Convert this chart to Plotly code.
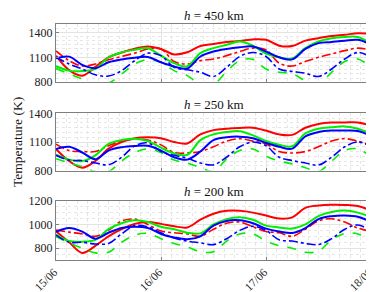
import pandas as pd
import plotly.graph_objects as go
from plotly.subplots import make_subplots

times = pd.date_range("2021-06-15 00:00", periods=25, freq="3h")

# h = 450 km
p450_red_solid = [1120, 946, 880, 985, 1100, 1158, 1204, 1230, 1200, 1135, 1160, 1235, 1260, 1285, 1295, 1315, 1310, 1240, 1235, 1300, 1330, 1355, 1370, 1390, 1380]
p450_red_dash = [1177, 1060, 995, 1020, 1070, 1110, 1150, 1200, 1200, 1050, 1020, 1060, 1080, 1120, 1170, 1210, 1190, 1030, 995, 1050, 1100, 1140, 1180, 1210, 1185]
p450_green_solid = [992, 940, 935, 960, 1100, 1160, 1190, 1210, 1120, 1030, 992, 1150, 1210, 1250, 1290, 1240, 1145, 1100, 1085, 1210, 1290, 1330, 1345, 1345, 1262]
p450_green_dash = [965, 900, 840, 770, 790, 900, 1020, 1075, 1040, 940, 880, 780, 775, 930, 1060, 1075, 960, 920, 905, 820, 785, 920, 1050, 1080, 973]
p450_blue_solid = [1088, 1108, 1010, 970, 1040, 1075, 1095, 1105, 1040, 990, 965, 1110, 1170, 1200, 1220, 1230, 1170, 1100, 1075, 1200, 1270, 1285, 1300, 1310, 1254]
p450_blue_dash = [1100, 1020, 960, 890, 875, 940, 1060, 1150, 1120, 980, 950, 920, 869, 980, 1110, 1158, 1110, 960, 930, 910, 870, 960, 1080, 1158, 1100]

# h = 250 km
p250_red_solid = [1027, 900, 830, 900, 1030, 1100, 1140, 1150, 1140, 1100, 1085, 1180, 1225, 1240, 1248, 1250, 1220, 1180, 1175, 1250, 1290, 1305, 1305, 1305, 1271]
p250_red_dash = [1078, 1010, 1000, 1000, 1060, 1110, 1130, 1120, 1070, 990, 985, 1000, 1050, 1110, 1135, 1110, 1080, 1000, 985, 1000, 1050, 1110, 1135, 1110, 1061]
p250_green_solid = [966, 915, 900, 960, 1080, 1120, 1135, 1110, 1040, 980, 965, 1120, 1180, 1205, 1214, 1170, 1110, 1070, 1055, 1190, 1240, 1255, 1264, 1240, 1186]
p250_green_dash = [925, 880, 840, 790, 790, 900, 990, 1027, 990, 910, 880, 830, 790, 920, 1010, 1027, 950, 900, 870, 830, 790, 900, 1010, 1027, 942]
p250_blue_solid = [1027, 1050, 990, 920, 1010, 1045, 1058, 1060, 1010, 940, 915, 1000, 1120, 1150, 1156, 1140, 1090, 1050, 1030, 1160, 1205, 1220, 1220, 1215, 1163]
p250_blue_dash = [960, 910, 905, 880, 860, 940, 1060, 1090, 1000, 960, 930, 880, 860, 940, 1050, 1100, 1060, 940, 905, 880, 858, 940, 1050, 1100, 1054]

# h = 200 km
p200_red_solid = [943, 850, 760, 820, 900, 960, 1005, 1020, 1005, 985, 975, 1040, 1090, 1115, 1115, 1100, 1075, 1050, 1060, 1140, 1160, 1167, 1165, 1155, 1117]
p200_red_dash = [952, 935, 920, 900, 950, 1030, 1045, 1000, 945, 930, 920, 900, 960, 1010, 1020, 980, 940, 930, 900, 960, 1030, 1048, 1020, 970, 940]
p200_green_solid = [915, 860, 855, 870, 960, 1010, 1035, 1020, 980, 960, 930, 925, 1000, 1045, 1060, 1040, 990, 975, 965, 1000, 1070, 1105, 1117, 1100, 1062]
p200_green_dash = [897, 845, 800, 760, 765, 850, 910, 924, 880, 840, 810, 770, 770, 860, 920, 920, 860, 820, 800, 765, 775, 870, 924, 920, 855]
p200_blue_solid = [938, 970, 940, 880, 930, 970, 980, 970, 920, 890, 875, 900, 990, 1030, 1035, 1010, 965, 940, 928, 970, 1045, 1070, 1076, 1065, 1021]
p200_blue_dash = [910, 850, 850, 835, 840, 920, 990, 980, 930, 885, 860, 845, 830, 880, 950, 985, 950, 870, 860, 840, 830, 880, 960, 995, 943]

titles = ["<i>h</i> = 450 km", "<i>h</i> = 250 km", "<i>h</i> = 200 km"]
yranges = [[800, 1500], [800, 1400], [700, 1200]]
ytickvals = [[800, 1100, 1400], [800, 1100, 1400], [800, 1000, 1200]]
xticks = ["2021-06-15", "2021-06-16", "2021-06-17", "2021-06-18"]
xticklabels = ["15/06", "16/06", "17/06", "18/06"]

panels = [
    [p450_red_solid, p450_red_dash, p450_green_solid, p450_green_dash, p450_blue_solid, p450_blue_dash],
    [p250_red_solid, p250_red_dash, p250_green_solid, p250_green_dash, p250_blue_solid, p250_blue_dash],
    [p200_red_solid, p200_red_dash, p200_green_solid, p200_green_dash, p200_blue_solid, p200_blue_dash],
]
styles = [
    ("#ff0000", "solid", 2.0),
    ("#ff0000", "dashdot", 1.6),
    ("#00ee00", "solid", 2.0),
    ("#00ee00", "dash", 1.6),
    ("#0000ff", "solid", 2.0),
    ("#0000ff", "dashdot", 1.6),
]

fig = make_subplots(rows=3, cols=1, shared_xaxes=False, vertical_spacing=0.13)
domains = [[0.753, 1.0], [0.379, 0.621], [0.0, 0.251]]

FONT = "Liberation Serif"
for i, series in enumerate(panels):
    for vals, (col, dash, w) in zip(series, styles):
        fig.add_trace(go.Scatter(x=times, y=vals, mode="lines",
                                 line=dict(color=col, dash=dash, width=w, shape="spline", smoothing=1.0),
                                 showlegend=False, hoverinfo="skip"), row=i + 1, col=1)
    ax = "" if i == 0 else str(i + 1)
    fig.update_layout({
        f"yaxis{ax}": dict(domain=domains[i], range=yranges[i], tickvals=ytickvals[i],
                           showline=True, mirror=True, linecolor="#7f7f7f", linewidth=1,
                           ticks="inside", ticklen=3, tickcolor="#7f7f7f",
                           showgrid=True, gridcolor="#e3e3e3", gridwidth=1, zeroline=False,
                           tickfont=dict(family=FONT, size=12, color="#222"),
                           minor=dict(dtick=50, showgrid=True, gridcolor="#e6e6e6", griddash="dot", gridwidth=1)),
        f"xaxis{ax}": dict(range=[xticks[0], xticks[-1]], tickvals=xticks,
                           ticktext=xticklabels if i == 2 else None,
                           showticklabels=(i == 2), tickangle=-45, ticklabelshift=-2,
                           showline=True, mirror=True, linecolor="#7f7f7f", linewidth=1,
                           ticks="inside", ticklen=3, tickcolor="#7f7f7f",
                           showgrid=True, gridcolor="#e3e3e3", gridwidth=1, zeroline=False,
                           tickfont=dict(family=FONT, size=11.5, color="#222"),
                           minor=dict(dtick=8640000, tick0="2021-06-15", showgrid=True,
                                      gridcolor="#e6e6e6", griddash="dot", gridwidth=1)),
    })

title_y = [1.0, 0.621, 0.251]
for t, yy in zip(titles, title_y):
    fig.add_annotation(text=t, x=0.5, y=yy, xref="paper", yref="paper", xanchor="center",
                       yanchor="middle", yshift=9, showarrow=False,
                       font=dict(family=FONT, size=13, color="#111"))

fig.add_annotation(text="Temperature (K)", x=0, y=0.5, xref="paper", yref="paper",
                   xshift=-39, textangle=-90, showarrow=False, xanchor="center", yanchor="middle",
                   font=dict(family=FONT, size=13.5, color="#111"))

fig.update_layout(width=374, height=292, margin=dict(l=48, r=7, t=16, b=33),
                  paper_bgcolor="white", plot_bgcolor="white", showlegend=False)

fig.write_html("out.html")
